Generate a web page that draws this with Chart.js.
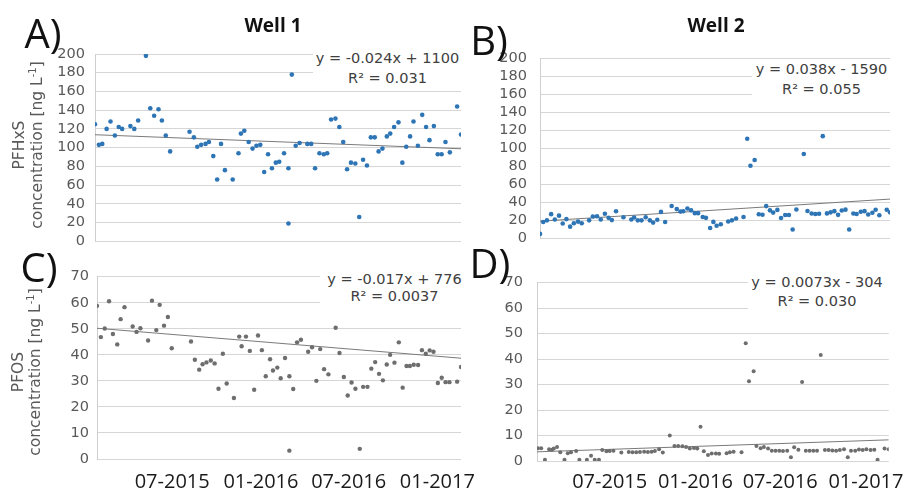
<!DOCTYPE html>
<html><head><meta charset="utf-8">
<script src="https://cdn.jsdelivr.net/npm/chart.js@4.4.1/dist/chart.umd.min.js"></script>
<style>
body{margin:0;background:#fff;}
#wrap{position:relative;width:914px;height:491px;overflow:hidden;background:#fff;}
canvas{position:absolute;}
.t{position:absolute;white-space:nowrap;line-height:1;transform:translate(-50%,-50%);}
.letter{font-family:"Open Sans",sans-serif;font-size:40px;color:#111;}
.well{font-family:"Open Sans",sans-serif;font-weight:bold;font-size:19px;color:#111;}
.ytitle{position:absolute;white-space:nowrap;text-align:center;font-family:"DejaVu Sans",sans-serif;font-size:15.5px;color:#595959;transform:translate(-50%,-50%) rotate(-90deg);}
.ytitle sup{font-size:10px;line-height:0;vertical-align:6px;}
.eq{position:absolute;background:#fff;text-align:center;font-family:"DejaVu Sans",sans-serif;font-size:14.5px;color:#404040;box-sizing:border-box;white-space:nowrap;}
</style></head>
<body><div id="wrap">
<canvas id="cA" width="470" height="260" style="left:0;top:0"></canvas>
<canvas id="cB" width="444" height="260" style="left:470px;top:0"></canvas>
<canvas id="cC" width="520" height="231" style="left:0;top:260px"></canvas>
<canvas id="cD" width="444" height="231" style="left:470px;top:260px"></canvas>

<div class="t well" style="left:273px;top:25px">Well 1</div>
<div class="t well" style="left:716px;top:25px">Well 2</div>
<div class="t letter" style="left:43px;top:33px">A)</div>
<div class="t letter" style="left:489px;top:40px">B)</div>
<div class="t letter" style="left:39px;top:267px">C)</div>
<div class="t letter" style="left:490px;top:263px">D)</div>

<div class="ytitle" style="left:28px;top:145px;line-height:18px">PFHxS<br>concentration [ng L<sup>-1</sup>]</div>
<div class="ytitle" style="left:26.5px;top:372px;line-height:17px">PFOS<br>concentration [ng L<sup>-1</sup>]</div>

<div class="eq" style="left:313px;top:46px;width:149px;height:42px;padding-top:2px;line-height:20px">y = -0.024x + 1100<br>R² = 0.031</div>
<div class="eq" style="left:752px;top:59px;width:139px;height:42px;line-height:20px">y = 0.038x - 1590<br>R² = 0.055</div>
<div class="eq" style="left:320px;top:264px;width:142px;height:42px;padding-top:7px;padding-left:7px;line-height:17px">y = -0.017x + 776<br>R² = 0.0037</div>
<div class="eq" style="left:748px;top:267px;width:143px;height:42px;padding-top:6px;padding-right:5px;line-height:18.5px">y = 0.0073x - 304<br>R² = 0.030</div>
</div>
<script>
// x values: days since 2015-01-01
const X_MIN = 25, X_MAX = 780;
const tickDays = [181, 365, 547, 731];
const tickLabels = ['07-2015', '01-2016', '07-2016', '01-2017'];

// Well 1 – PFHxS
const w1PFHxSDays = [25,33,40,49,57,66,74,81,98,106,114,130,139,147,156,163,171,180,220,229,236,244,253,260,269,277,285,293,309,321,326,333,342,350,358,366,374,382,390,398,405,415,424,424,431,439,447,463,471,479,488,497,504,512,521,529,537,545,553,562,570,578,586,594,602,610,618,627,634,642,651,659,667,675,682,691,700,708,715,724,732,740,748,757,772,780];
const w1PFHxS = [125,103,104,120,128,113,122,120,123,120,129,198,142,134,141,129,113,96,117,111,101,103,104,106,91,66,104,76,66,94,115,118,106,99,102,103,74,93,78,84,85,94,78,19,178,102,105,104,104,78,94,93,94,130,131,122,106,77,84,83,26,87,81,111,111,96,99,112,115,122,127,84,101,112,128,102,135,122,108,123,93,93,106,95,144,114];
const w1PFHxSTrend = [113.8, 98.8];

// Well 2 – PFHxS
const w2PFHxSDays = [25,32,40,49,57,66,74,82,90,98,107,115,131,139,148,156,165,173,180,189,205,222,228,236,244,253,262,269,278,286,295,309,320,328,334,343,351,359,366,376,383,392,399,406,415,431,439,448,464,472,479,488,497,505,513,521,528,537,545,554,562,570,578,594,602,611,619,627,635,644,652,660,668,676,684,692,701,708,717,725,733,742,749,757,773,780];
const w2PFHxS = [4.9,18.1,19.9,26.8,20.9,25.1,16.4,21.3,12.9,16.7,18.5,16.7,19.9,24.1,24.4,20.9,27.2,22.7,20.2,30,23.4,20.9,23,19.9,19.9,23.4,19.9,17.4,20.6,29.3,18.1,35.9,32.4,29.6,30,33.1,31,27.9,27.9,23.7,22.7,11.5,18.2,14,15.6,18.6,19.9,22,23.7,110.5,80.5,86.8,26.6,26.1,35.7,31,28.5,31.5,22.5,25.8,25.8,9.7,32,93.5,30.2,27.5,27,27.3,113.3,27.6,28.8,30.1,26,30.8,31.8,9.7,27.5,27,29.4,30.1,26.4,28.4,31.6,25.5,31.6,28.8];
const w2PFHxSTrend = [19, 43.5];

// Well 1 – PFOS
const w1PFOSDays = [25,33,41,50,58,67,74,82,99,107,115,131,139,148,155,164,172,180,220,228,237,244,252,261,269,277,286,294,309,320,325,334,342,351,359,367,375,384,390,399,406,415,424,424,432,440,448,463,471,480,488,496,505,520,528,537,545,553,561,570,577,586,594,602,610,618,626,633,642,651,659,667,674,682,691,699,707,715,723,732,740,748,756,772,780];
const w1PFOS = [58.8,46.8,50.1,60.6,48,44,53.7,58.3,50.9,48.8,50.2,45.5,60.8,49.5,59.2,51.2,54.5,42.5,45.1,38.1,34.3,36.4,37.1,37.8,36.7,27,40.4,29,23.4,47,43.3,47,41.5,26.6,47.4,41.8,31.8,38.3,34,35.1,31,38.8,31.8,3.2,26.9,44.8,45.8,41.2,42.9,30,42.2,34.5,32.5,50.4,40.7,31.5,24.4,29.4,27,3.9,27.7,27.7,34.7,37.2,32.7,30.2,36.3,40,37,44.8,27.4,35.7,35.7,36.2,36.1,41.8,40.4,41.7,41.2,29.2,31.2,29.5,29.5,29.7,35.3];
const w1PFOSTrend = [50.2, 38.7];

// Well 2 – PFOS
const w2PFOSDays = [27,34,42,51,57,61,68,75,84,91,98,109,116,132,141,149,158,165,174,181,189,206,222,230,238,246,255,263,271,278,287,295,310,320,328,337,345,353,362,369,376,383,392,400,409,416,432,439,447,464,473,480,490,496,505,512,521,529,537,545,553,562,570,577,586,594,602,610,618,626,634,643,651,659,667,675,684,692,699,708,716,724,732,741,749,756,771,780];
const w2PFOS = [5,5,0.5,4.6,4.4,4.9,5.5,3.4,0.5,3,3.4,3.9,0.5,0.5,2.1,0.5,0.5,4.3,3.8,3.9,4,3.3,3.5,3.4,3.4,3.5,3.6,3.5,3.6,3.9,4.6,3.3,10,5.9,5.9,5.8,5.5,4.9,5.1,4.9,13.4,3.8,2.4,2.9,2.9,2.8,3,3.4,3.6,3.4,46.2,31.3,35.2,5.9,5,5.5,4.9,4,4,4,3.9,4,1.5,5.4,4.4,31,4,4,4,4,41.6,4.3,4.3,4.1,4,4.3,4.6,1.5,4,4,4.5,4.3,4.6,4.3,4.4,0.5,4.9,4.6];
const w2PFOSTrend = [3.6, 8.3];

function panel(id, days, vals, trend, o) {
  const pts = days.map((d, i) => ({x: d, y: vals[i]}));
  return new Chart(document.getElementById(id), {
    type: 'scatter',
    data: {datasets: [
      {data: pts, backgroundColor: o.color, borderColor: o.color, borderWidth: 0,
       pointRadius: o.r, pointHoverRadius: o.r},
      {type: 'line', data: [{x: X_MIN, y: trend[0]}, {x: X_MAX, y: trend[1]}],
       borderColor: '#7a7a7a', borderWidth: 1, pointRadius: 0, fill: false}
    ]},
    options: {
      responsive: false, animation: false, events: [],
      layout: {padding: o.pad},
      plugins: {legend: {display: false}, tooltip: {enabled: false}},
      scales: {
        x: {
          type: 'linear', min: X_MIN, max: X_MAX, display: o.showX,
          grid: {display: false, drawTicks: false}, border: {display: false},
          afterBuildTicks: s => { s.ticks = tickDays.map(v => ({value: v})); },
          afterFit: s => { if (o.showX) s.height = o.xH; },
          ticks: {autoSkip: false, maxRotation: 0, padding: o.xPad || 0,
                  color: '#1a1a1a', font: {family: 'Open Sans', size: 20},
                  callback: (v, i) => tickLabels[i]}
        },
        y: {
          min: 0, max: o.yMax,
          ticks: {stepSize: o.step, padding: o.tPad, color: '#595959', autoSkip: false,
                  font: {family: 'DejaVu Sans', size: 14.5}},
          grid: {color: '#d6d6d6', lineWidth: 1, drawTicks: false},
          border: {display: true, color: '#cfcfcf', width: 1},
          afterFit: s => { s.width = o.yW; }
        }
      }
    }
  });
}

panel('cA', w1PFHxSDays, w1PFHxS, w1PFHxSTrend,
  {color: '#2E75B6', r: 2.3, yMax: 200, step: 20, yW: 95, tPad: 10, showX: false,
   pad: {left: 0, top: 54, right: 9, bottom: 11}});
panel('cB', w2PFHxSDays, w2PFHxS, w2PFHxSTrend,
  {color: '#2E75B6', r: 2.3, yMax: 200, step: 20, yW: 70, tPad: 13, showX: false,
   pad: {left: 0, top: 58, right: 24, bottom: 12}});
panel('cC', w1PFOSDays, w1PFOS, w1PFOSTrend,
  {color: '#6e6e6e', r: 2.2, yMax: 70, step: 10, yW: 97, tPad: 8, showX: true, xH: 32, xPad: 11,
   pad: {left: 0, top: 12, right: 59, bottom: 0}});
panel('cD', w2PFOSDays, w2PFOS, w2PFOSTrend,
  {color: '#6e6e6e', r: 2.0, yMax: 70, step: 10, yW: 67, tPad: 14, showX: true, xH: 30, xPad: 9,
   pad: {left: 0, top: 14, right: 24, bottom: 0}});
</script>
</body></html>
